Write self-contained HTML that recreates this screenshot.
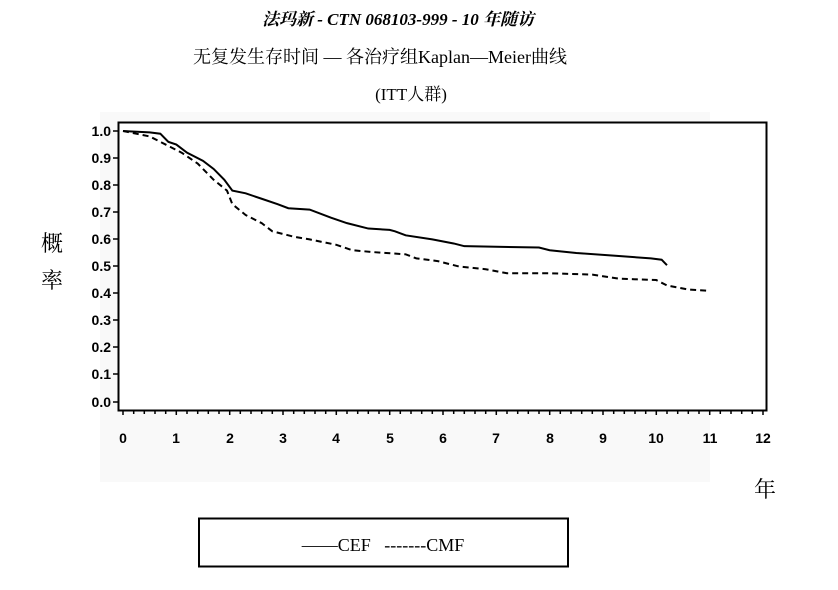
<!DOCTYPE html>
<html><head><meta charset="utf-8"><style>
body{margin:0;background:#fff;width:838px;height:585px;overflow:hidden}
svg text{font-family:"Liberation Sans","Noto Sans CJK SC",sans-serif}
.s{font-family:"Liberation Serif","Noto Serif CJK SC","Noto Sans CJK SC",serif}
</style></head><body>
<svg width="838" height="585" xmlns="http://www.w3.org/2000/svg">
<rect x="100" y="112" width="610" height="370" fill="#f9f9f9"/>
<text class="s" x="398" y="25" text-anchor="middle" font-size="17" font-weight="bold" font-style="italic">法玛新 - CTN 068103-999 - 10 年随访</text>
<text class="s" x="380" y="63" text-anchor="middle" font-size="18">无复发生存时间 — 各治疗组Kaplan—Meier曲线</text>
<text class="s" x="411" y="100" text-anchor="middle" font-size="17">(ITT人群)</text>
<rect x="118.5" y="122.5" width="648" height="288" fill="#fff" stroke="#000" stroke-width="2"/>
<g font-size="14" font-weight="bold" text-anchor="end">
<text x="111" y="136">1.0</text><text x="111" y="163">0.9</text><text x="111" y="190">0.8</text>
<text x="111" y="217">0.7</text><text x="111" y="244">0.6</text><text x="111" y="271">0.5</text>
<text x="111" y="298">0.4</text><text x="111" y="325">0.3</text><text x="111" y="352">0.2</text>
<text x="111" y="379">0.1</text><text x="111" y="407">0.0</text>
</g>
<g stroke="#000" stroke-width="1.5">
<line x1="113" y1="131" x2="118" y2="131"/><line x1="113" y1="158" x2="118" y2="158"/><line x1="113" y1="185" x2="118" y2="185"/><line x1="113" y1="212" x2="118" y2="212"/><line x1="113" y1="239" x2="118" y2="239"/><line x1="113" y1="266" x2="118" y2="266"/><line x1="113" y1="293" x2="118" y2="293"/><line x1="113" y1="320" x2="118" y2="320"/><line x1="113" y1="347" x2="118" y2="347"/><line x1="113" y1="374" x2="118" y2="374"/><line x1="113" y1="402" x2="118" y2="402"/>
</g>
<g stroke="#000" stroke-width="1.5">
<path d="M123 410v5M133.7 410v4M144.3 410v4M155 410v4M165.7 410v4M176.3 410v5M187 410v4M197.7 410v4M208.3 410v4M219 410v4M229.7 410v5M240.3 410v4M251 410v4M261.7 410v4M272.3 410v4M283 410v5M293.7 410v4M304.3 410v4M315 410v4M325.7 410v4M336.3 410v5M347 410v4M357.7 410v4M368.3 410v4M379 410v4M389.7 410v5M400.3 410v4M411 410v4M421.7 410v4M432.3 410v4M443 410v5M453.7 410v4M464.3 410v4M475 410v4M485.7 410v4M496.3 410v5M507 410v4M517.7 410v4M528.3 410v4M539 410v4M549.7 410v5M560.3 410v4M571 410v4M581.7 410v4M592.3 410v4M603 410v5M613.7 410v4M624.3 410v4M635 410v4M645.7 410v4M656.3 410v5M667 410v4M677.7 410v4M688.3 410v4M699 410v4M709.7 410v5M720.3 410v4M731 410v4M741.7 410v4M752.3 410v4M763 410v5"/>
</g>
<g font-size="14" font-weight="bold" text-anchor="middle">
<text x="123" y="443">0</text><text x="176" y="443">1</text><text x="230" y="443">2</text><text x="283" y="443">3</text><text x="336" y="443">4</text><text x="390" y="443">5</text><text x="443" y="443">6</text><text x="496" y="443">7</text><text x="550" y="443">8</text><text x="603" y="443">9</text><text x="656" y="443">10</text><text x="710" y="443">11</text><text x="763" y="443">12</text>
</g>
<text class="s" x="52" y="251" text-anchor="middle" font-size="22">概</text>
<text class="s" x="52" y="288" text-anchor="middle" font-size="22">率</text>
<text class="s" x="765" y="497" text-anchor="middle" font-size="22">年</text>
<g transform="translate(123,402) scale(53.33,-271)" fill="none" stroke="#000">
<polyline vector-effect="non-scaling-stroke" stroke-width="2" points="0,1 0.5,0.995 0.7,0.99 0.85,0.96 1,0.95 1.2,0.92 1.5,0.89 1.7,0.86 1.9,0.82 2.05,0.78 2.3,0.77 2.6,0.75 2.9,0.73 3.1,0.715 3.5,0.71 3.9,0.68 4.2,0.66 4.6,0.64 5,0.635 5.1,0.63 5.3,0.615 5.8,0.6 6.2,0.585 6.4,0.575 7.8,0.57 8,0.56 8.5,0.55 9.2,0.54 9.9,0.53 10.1,0.525 10.2,0.505"/>
<polyline vector-effect="non-scaling-stroke" stroke-width="2" stroke-dasharray="6,4" points="0,1 0.5,0.98 0.8,0.95 1.1,0.92 1.4,0.88 1.7,0.82 1.95,0.78 2.05,0.73 2.3,0.69 2.6,0.66 2.8,0.63 3.2,0.61 3.5,0.6 4,0.58 4.3,0.56 4.7,0.553 5.3,0.545 5.5,0.53 5.9,0.52 6.3,0.5 6.8,0.49 7.2,0.475 8,0.475 8.8,0.47 9.3,0.455 10,0.45 10.2,0.43 10.6,0.415 11,0.41"/>
</g>
<rect x="199" y="518.5" width="369" height="48" fill="#fff" stroke="#000" stroke-width="2"/>
<text class="s" x="383" y="551" text-anchor="middle" font-size="18">——CEF &#160;&#160;-------CMF</text>
</svg>
</body></html>
